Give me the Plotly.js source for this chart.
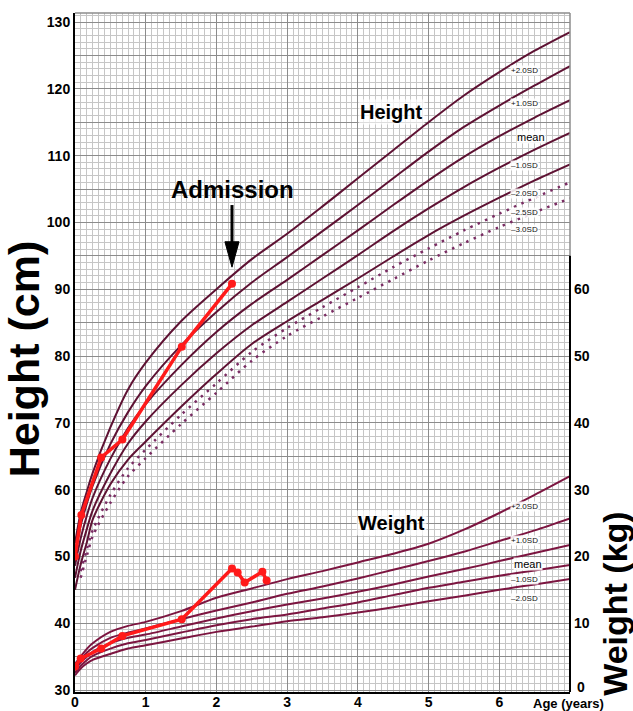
<!DOCTYPE html>
<html>
<head>
<meta charset="utf-8">
<script src="https://cdn.plot.ly/plotly-3.0.1.min.js"></script>
<style>html,body{margin:0;padding:0;background:#fff;}#chart{width:633px;height:711px;}</style>
</head>
<body>
<div id="chart"></div>
<script>
// ---------- DATA ----------
const ageH = [0, 0.08, 0.17, 0.25, 0.5, 0.75, 1, 1.5, 2, 2.5, 3, 3.5, 4, 4.5, 5, 5.5, 6, 6.5, 7];
const hP2  = [52.0, 56.5, 59.8, 62.5, 69.3, 75.0, 79.0, 85.2, 90.0, 94.5, 98.3, 102.4, 106.6, 110.8, 115.0, 119.0, 122.5, 125.7, 128.5];
const hP1  = [50.3, 54.6, 58.0, 60.6, 66.8, 71.6, 75.5, 81.6, 86.6, 91.0, 94.8, 98.7, 102.6, 106.6, 110.6, 114.3, 117.5, 120.5, 123.4];
const hMean= [48.6, 52.7, 56.2, 58.8, 64.6, 69.2, 72.8, 78.6, 83.6, 87.8, 91.4, 95.1, 98.8, 102.6, 106.3, 109.8, 112.9, 115.7, 118.3];
const hM1  = [46.8, 50.8, 54.2, 56.9, 62.4, 66.9, 70.2, 75.6, 80.4, 84.6, 88.1, 91.6, 95.1, 98.7, 102.1, 105.3, 108.2, 110.9, 113.4];
const hM2  = [45.0, 48.8, 52.2, 55.5, 60.8, 64.5, 67.2, 72.4, 77.3, 81.8, 85.2, 88.4, 91.6, 94.9, 98.1, 101.0, 103.7, 106.3, 108.7];
const ageD = [0.08, 0.17, 0.25, 0.5, 0.75, 1, 1.5, 2, 2.5, 3, 3.5, 4, 4.5, 5, 5.5, 6, 6.5, 7];
const hM25 = [47.8, 51.2, 53.9, 59.2, 63.2, 66.0, 71.2, 75.9, 80.6, 84.2, 87.3, 90.3, 93.3, 96.1, 98.8, 101.3, 103.7, 106.0];
const hM3  = [46.8, 50.2, 53.0, 58.0, 62.0, 64.7, 69.8, 74.5, 79.3, 83.0, 85.9, 88.7, 91.5, 94.3, 96.9, 99.3, 101.5, 103.6];

const ageW = [0, 0.08, 0.17, 0.25, 0.5, 0.75, 1, 1.5, 2, 2.5, 3, 3.5, 4, 4.5, 5, 5.5, 6, 6.5, 7];
const wP2  = [3.9, 5.0, 6.2, 7.0, 8.7, 9.6, 10.2, 11.8, 13.8, 15.2, 16.6, 17.8, 19.1, 20.4, 21.9, 24.0, 26.5, 29.2, 32.0];
const wP1  = [3.4, 4.5, 5.6, 6.3, 7.8, 8.6, 9.2, 10.6, 11.9, 13.1, 14.4, 15.5, 16.7, 18.0, 19.3, 20.7, 22.3, 23.9, 25.7];
const wMean= [3.0, 4.1, 5.0, 5.7, 7.0, 7.8, 8.3, 9.5, 10.7, 11.8, 12.8, 13.7, 14.7, 15.8, 17.0, 18.1, 19.3, 20.5, 21.7];
const wM1  = [2.6, 3.6, 4.5, 5.1, 6.2, 7.0, 7.5, 8.6, 9.7, 10.6, 11.3, 12.2, 13.1, 14.2, 15.3, 16.2, 17.1, 17.9, 18.7];
const wM2  = [2.2, 3.2, 4.0, 4.5, 5.4, 6.2, 6.7, 7.7, 8.7, 9.5, 10.3, 10.9, 11.6, 12.4, 13.3, 14.1, 15.0, 15.8, 16.6];

// patient measurements
const ptHeightAge = [0, 0.09, 0.37, 0.67, 1.51, 2.22];
const ptHeight    = [50.0, 56.2, 64.8, 67.5, 81.4, 90.8];
const ptWeightAge = [0, 0.08, 0.37, 0.67, 1.51, 2.22, 2.30, 2.40, 2.65, 2.71];
const ptWeight    = [3.5, 4.7, 6.2, 8.1, 10.6, 18.2, 17.6, 16.1, 17.7, 16.4];

const sdLabels = ['+2.0SD', '+1.0SD', 'mean', '–1.0SD', '–2.0SD', '–2.5SD', '–3.0SD'];
const hTicks = [30, 40, 50, 60, 70, 80, 90, 100, 110, 120, 130];
const wTicks = [0, 10, 20, 30, 40, 50, 60];
const xTicks = [0, 1, 2, 3, 4, 5, 6];

// ---------- STYLE ----------
const FONT = 'Liberation Sans, Arial, sans-serif';
const hColor = '#5e1233';
const wColor = '#7c1540';
const dotColor = '#7a2d63';
const red = '#ff1a1a';
const Y0 = 29.7, Y1 = 131.35, WOFF = 30;

const traces = [];
[hP2, hP1, hMean, hM1, hM2].forEach(v => traces.push({
  x: ageH, y: v, type: 'scatter', mode: 'lines', line: {color: hColor, width: 2, shape: 'spline', smoothing: 0.8},
  hoverinfo: 'skip'
}));
[hM25, hM3].forEach(v => traces.push({
  x: ageD, y: v, type: 'scatter', mode: 'lines', line: {color: dotColor, width: 2.5, dash: '2.5px,5.5px', shape: 'spline', smoothing: 0.8},
  hoverinfo: 'skip'
}));
[wP2, wP1, wMean, wM1, wM2].forEach(v => traces.push({
  x: ageW, y: v, yaxis: 'y2', type: 'scatter', mode: 'lines', line: {color: wColor, width: 2, shape: 'spline', smoothing: 0.8},
  hoverinfo: 'skip'
}));
traces.push({x: ptHeightAge, y: ptHeight, type: 'scatter', mode: 'lines+markers',
  line: {color: red, width: 3.5}, marker: {color: red, size: 8}});
traces.push({x: ptWeightAge, y: ptWeight, yaxis: 'y2', type: 'scatter', mode: 'lines+markers',
  line: {color: red, width: 3.5}, marker: {color: red, size: 8}});

// tick values for 5-cm major grid, labels only every 10
const hGridVals = [], hGridText = [];
for (let v = 30; v <= 130; v += 5) { hGridVals.push(v); hGridText.push(hTicks.includes(v) ? String(v) : ''); }
// weight axis: the "0" label sits slightly higher (drawn separately), others as ticks
const wTickVals = wTicks.filter(v => v !== 0);

const tickFont = {family: FONT, size: 14, color: '#000', weight: 'bold'};
const sdFont = {family: FONT, size: 8, color: '#111'};
const meanFont = {family: FONT, size: 11, color: '#000'};

const annotations = [];
const hLabelY = [122.7, 117.8, 112.8, 108.5, 104.4, 101.5, 99.0];
sdLabels.forEach((t, i) => annotations.push({
  x: t === 'mean' ? 6.45 : 6.35, y: hLabelY[i], xref: 'x', yref: 'y', text: t, showarrow: false,
  xanchor: 'center', yanchor: 'middle',
  font: t === 'mean' ? meanFont : sdFont, bgcolor: 'rgba(255,255,255,0.85)', borderpad: 0
}));
const wLabelY = [27.4, 22.35, 18.9, 16.6, 13.7];
sdLabels.slice(0, 5).forEach((t, i) => annotations.push({
  x: t === 'mean' ? 6.4 : 6.35, y: wLabelY[i], xref: 'x', yref: 'y2', text: t, showarrow: false,
  xanchor: 'center', yanchor: 'middle',
  font: t === 'mean' ? meanFont : sdFont, bgcolor: 'rgba(255,255,255,0.85)', borderpad: 0
}));
annotations.push({x: 4.48, y: 116.6, xref: 'x', yref: 'y', text: 'Height', showarrow: false, xanchor: 'center', yanchor: 'middle',
  font: {family: FONT, size: 20, color: '#000', weight: 'bold'}, bgcolor: 'rgba(255,255,255,0.7)'});
annotations.push({x: 4.48, y: 25.0, xref: 'x', yref: 'y2', text: 'Weight', showarrow: false, xanchor: 'center', yanchor: 'middle',
  font: {family: FONT, size: 20, color: '#000', weight: 'bold'}, bgcolor: 'rgba(255,255,255,0.7)'});
annotations.push({x: 2.225, y: 105.0, xref: 'x', yref: 'y', text: 'Admission', showarrow: false, xanchor: 'center', yanchor: 'middle',
  font: {family: FONT, size: 24, color: '#000', weight: 'bold'}});
// weight "0" label
annotations.push({x: 1.0101, y: 0, xref: 'paper', yref: 'y2', text: '0', showarrow: false,
  xanchor: 'left', yanchor: 'middle', yshift: 3, font: tickFont});
// axis titles
annotations.push({x: -0.103, y: 0.49, xref: 'paper', yref: 'paper', text: 'Height (cm)', textangle: -90, showarrow: false,
  xanchor: 'center', yanchor: 'middle',
  font: {family: FONT, size: 43, color: '#000', weight: 'bold'}});
annotations.push({x: 1.091, y: 0.13, xref: 'paper', yref: 'paper', text: 'Weight (kg)', textangle: -90, showarrow: false,
  xanchor: 'center', yanchor: 'middle',
  font: {family: FONT, size: 34, color: '#000', weight: 'bold'}});
annotations.push({x: 0.996, y: -0.0169, xref: 'paper', yref: 'paper', text: 'Age (years)', showarrow: false,
  xanchor: 'center', yanchor: 'middle',
  font: {family: FONT, size: 13, color: '#000', weight: 'bold'}});

const admitAge = ptHeightAge[ptHeightAge.length - 1];
const shapes = [
  // admission arrow
  {type: 'line', xref: 'x', yref: 'y', x0: admitAge, x1: admitAge, y0: 102.6, y1: 96.5, line: {color: '#000', width: 3}, layer: 'above'},
  {type: 'path', xref: 'x', yref: 'y', path: `M ${admitAge - 0.1} 97.1 L ${admitAge + 0.1} 97.1 L ${admitAge} 93.3 Z`,
   fillcolor: '#000', line: {color: '#000', width: 1}, layer: 'above'},
  // borders
  {type: 'line', xref: 'paper', yref: 'paper', x0: 0, x1: 1, y0: 1, y1: 1, line: {color: '#8c8c8c', width: 1.5}},
  {type: 'line', xref: 'paper', yref: 'y', x0: 1, x1: 1, y0: WOFF + 65, y1: Y1, line: {color: '#8c8c8c', width: 1.5}},
  // weight axis line
  {type: 'line', xref: 'paper', yref: 'y', x0: 1, x1: 1, y0: Y0, y1: WOFF + 65, line: {color: '#000', width: 2}, layer: 'above'}
];

const layout = {
  width: 633, height: 711,
  margin: {l: 75, r: 63, t: 13, b: 19, pad: 0},
  paper_bgcolor: '#fff', plot_bgcolor: '#fff',
  showlegend: false,
  font: {family: FONT, color: '#000'},
  xaxis: {
    range: [0, 7], tickvals: xTicks, ticktext: xTicks.map(String), ticks: '', tickfont: tickFont,
    ticklabelstandoff: -4,
    showgrid: true, gridcolor: '#8c8c8c', gridwidth: 1,
    minor: {dtick: 1 / 12, tick0: 0, showgrid: true, gridcolor: '#c6c6c6', gridwidth: 1},
    showline: true, linecolor: '#000', linewidth: 2, zeroline: false, fixedrange: true
  },
  yaxis: {
    range: [Y0, Y1], tickvals: hGridVals, ticktext: hGridText, ticks: '', tickfont: tickFont,
    showgrid: true, gridcolor: '#8c8c8c', gridwidth: 1,
    minor: {dtick: 1, tick0: 0, showgrid: true, gridcolor: '#c6c6c6', gridwidth: 1},
    showline: true, linecolor: '#000', linewidth: 2, zeroline: false, fixedrange: true
  },
  yaxis2: {
    overlaying: 'y', side: 'right', anchor: 'x', range: [Y0 - WOFF, Y1 - WOFF],
    tickvals: wTickVals, ticktext: wTickVals.map(String), ticks: '', tickfont: tickFont,
    ticklabelstandoff: 3,
    showgrid: false, showline: false, zeroline: false, fixedrange: true
  },
  annotations: annotations,
  shapes: shapes
};

Plotly.newPlot('chart', traces, layout, {displayModeBar: false, staticPlot: true});
</script>
</body>
</html>
